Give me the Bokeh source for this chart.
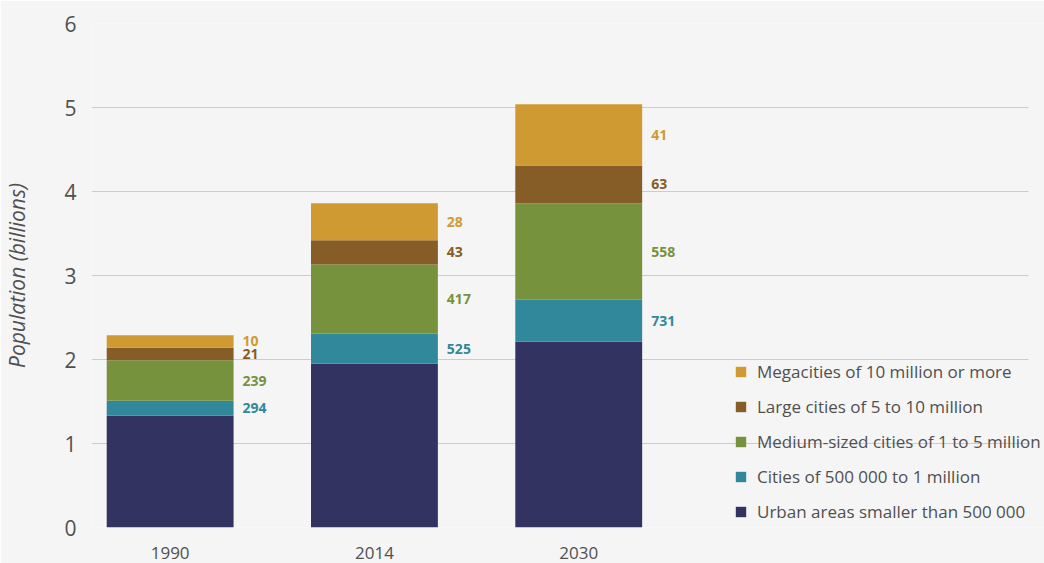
from bokeh.plotting import figure
from bokeh.models import ColumnDataSource, Range1d, FixedTicker, Legend, LegendItem
from bokeh.core.properties import value
from bokeh.embed import file_html
from bokeh.resources import INLINE

# ---- data (billions of urban dwellers, number of cities) ----
years = ["1990", "2014", "2030"]
urban_small = [1.33, 1.95, 2.21]        # Urban areas smaller than 500 000
cities_500k_1m = [0.18, 0.36, 0.50]     # Cities of 500 000 to 1 million
medium_1_5m = [0.48, 0.82, 1.15]        # Medium-sized cities of 1 to 5 million
large_5_10m = [0.15, 0.29, 0.45]        # Large cities of 5 to 10 million
mega_10m = [0.15, 0.44, 0.73]           # Megacities of 10 million or more

count_500k_1m = [294, 525, 731]
count_medium = [239, 417, 558]
count_large = [21, 43, 63]
count_mega = [10, 28, 41]

series_names = [
    "Urban areas smaller than 500 000",
    "Cities of 500 000 to 1 million",
    "Medium-sized cities of 1 to 5 million",
    "Large cities of 5 to 10 million",
    "Megacities of 10 million or more",
]
y_ticks = [0, 1, 2, 3, 4, 5, 6]

# ---- styles ----
FONT = "Open Sans"
BG = "#f5f5f5"
TEXT = "#505050"
colors = ["#333362", "#31889b", "#77923d", "#865d26", "#d09a33"]
BAR_W = 0.621
X_START, X_GRID_END, X_END = -0.385, 4.202, 4.280

fields = ["urban", "c500", "medium", "large", "mega"]
x = list(range(len(years)))
src = ColumnDataSource(dict(
    x=x, urban=urban_small, c500=cities_500k_1m, medium=medium_1_5m,
    large=large_5_10m, mega=mega_10m,
))

p = figure(
    width=1044, height=563,
    x_range=Range1d(X_START, X_END), y_range=Range1d(0, 6),
    output_backend="svg", toolbar_location=None,
    min_border_left=90, min_border_right=0, min_border_top=23, min_border_bottom=36,
    background_fill_color=BG, border_fill_color=BG, outline_line_color=None,
)

renderers = p.vbar_stack(fields, x="x", width=BAR_W, source=src,
                         fill_color=colors, line_alpha=0)

# ---- value labels (counts of cities) at the centre of each segment ----
series_vals = [urban_small, cities_500k_1m, medium_1_5m, large_5_10m, mega_10m]
counts = [None, count_500k_1m, count_medium, count_large, count_mega]
lx, ly, lt, lc = [], [], [], []
for i in range(len(years)):
    bottom = 0.0
    for s, vals in enumerate(series_vals):
        top = bottom + vals[i]
        if counts[s] is not None:
            lx.append(x[i] + BAR_W / 2)
            ly.append((bottom + top) / 2)
            lt.append(str(counts[s][i]))
            lc.append(colors[s])
        bottom = top
lsrc = ColumnDataSource(dict(x=lx, y=ly, t=lt, c=lc))
p.text(x="x", y="y", text="t", text_color="c", source=lsrc, x_offset=9,
       text_font=value(FONT), text_font_size="14px", text_font_style="bold",
       text_baseline="middle", text_align="left")

# ---- axes ----
p.xaxis.ticker = FixedTicker(ticks=x)
p.xaxis.major_label_overrides = {i: y for i, y in enumerate(years)}
p.yaxis.ticker = FixedTicker(ticks=y_ticks)
for ax in (p.xaxis, p.yaxis):
    ax.axis_line_color = None
    ax.major_tick_line_color = None
    ax.minor_tick_line_color = None
    ax.major_tick_out = 0
    ax.major_tick_in = 0
    ax.major_label_text_font = FONT
    ax.major_label_text_color = TEXT
p.xaxis.major_label_text_font_size = "17px"
p.xaxis.major_label_standoff = 19
p.yaxis.major_label_text_font_size = "21px"
p.yaxis.major_label_standoff = 15
p.yaxis.axis_label = "Population (billions)"
p.yaxis.axis_label_text_font = FONT
p.yaxis.axis_label_text_font_style = "italic"
p.yaxis.axis_label_text_font_size = "21px"
p.yaxis.axis_label_text_color = TEXT
p.yaxis.axis_label_standoff = 30

p.xgrid.grid_line_color = None
p.ygrid.grid_line_color = "#cccccc"
p.ygrid.grid_line_width = 1
p.ygrid.cross_bounds = (X_START, X_GRID_END)

# ---- legend ----
items = [LegendItem(label=series_names[s], renderers=[renderers[s]]) for s in reversed(range(5))]
legend = Legend(items=items, location=(643, 4),
                glyph_width=13, glyph_height=13, label_height=22, spacing=12,
                label_standoff=10, padding=0, margin=0,
                label_text_font=FONT, label_text_font_size="17px", label_text_color=TEXT,
                background_fill_alpha=0, border_line_alpha=0)
p.add_layout(legend)

open("out.html", "w").write(file_html(p, INLINE))
